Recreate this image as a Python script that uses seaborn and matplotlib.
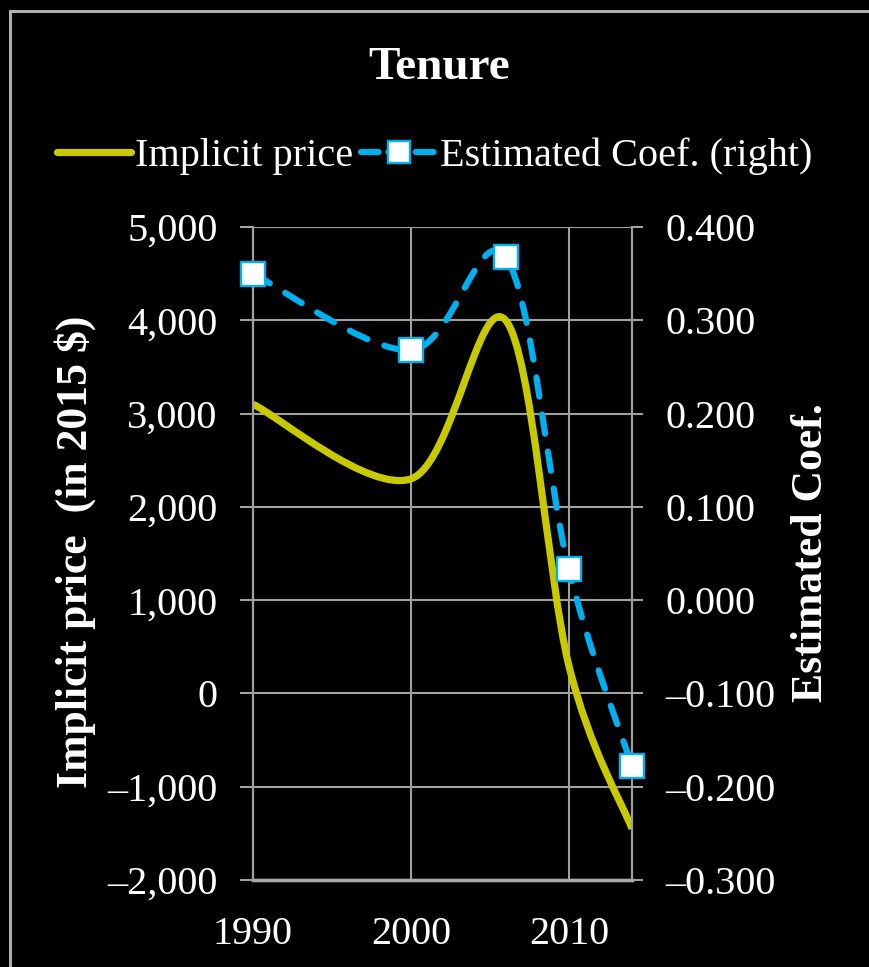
import matplotlib
matplotlib.use("Agg")
import numpy as np
import pandas as pd
import seaborn as sns
import matplotlib.pyplot as plt
from matplotlib.path import Path
from matplotlib.patches import PathPatch, Rectangle
from matplotlib.lines import Line2D
from matplotlib.ticker import FuncFormatter, FixedLocator

# ---- data -------------------------------------------------------------
years = [1990, 2000, 2006, 2010, 2014]
implicit_price = [3100, 2300, 4000, 300, -1450]          # 2015 $
estimated_coef = [0.350, 0.268, 0.368, 0.033, -0.178]

price_ticks = [-2000, -1000, 0, 1000, 2000, 3000, 4000, 5000]
coef_ticks = [-0.3, -0.2, -0.1, 0.0, 0.1, 0.2, 0.3, 0.4]
year_ticks = [1990, 2000, 2010]

title = "Tenure"
price_name = "Implicit price"
coef_name = "Estimated Coef. (right)"
left_label = "Implicit price  (in 2015 $)"
right_label = "Estimated Coef."

YELLOW = "#C9C900"
BLUE = "#00B0F0"
GRID = "#A0A0A0"
SERIF = ["Liberation Serif", "DejaVu Serif"]

sns.set_theme(style="dark", rc={
    "figure.facecolor": "black",
    "axes.facecolor": "black",
    "savefig.facecolor": "black",
    "text.color": "white",
    "xtick.color": "white",
    "ytick.color": "white",
})
plt.rcParams["font.family"] = SERIF


def smooth_path(xs, ys):
    """Piecewise cubic Bezier through the points (smoothed line)."""
    pts = np.column_stack([xs, ys]).astype(float)
    n = len(pts)
    verts = [pts[0]]
    codes = [Path.MOVETO]
    for i in range(n - 1):
        p0 = pts[i - 1] if i > 0 else pts[i]
        p1, p2 = pts[i], pts[i + 1]
        p3 = pts[i + 2] if i + 2 < n else pts[i + 1]
        verts += [p1 + (p2 - p0) / 6.0, p2 - (p3 - p1) / 6.0, p2]
        codes += [Path.CURVE4] * 3
    return Path(verts, codes)


W, H = 869, 967
fig = plt.figure(figsize=(W / 100, H / 100), dpi=100)
ax = fig.add_axes([253 / W, 1 - 880 / H, (632 - 253) / W, (880 - 227) / H])
ax2 = ax.twinx()

df = pd.DataFrame({"year": years, "price": implicit_price, "coef": estimated_coef})

# implicit price: smoothed solid line on the left axis
ax.add_patch(PathPatch(smooth_path(df["year"], df["price"]), fill=False,
                       edgecolor=YELLOW, linewidth=5.2, capstyle="butt",
                       joinstyle="round", zorder=3))

# estimated coefficient: smoothed dashed line + square markers, right axis
ax2.add_patch(PathPatch(smooth_path(df["year"], df["coef"]), fill=False,
                        edgecolor=BLUE, linewidth=4.5,
                        linestyle=(0, (3.1, 2.9)), capstyle="round",
                        joinstyle="round", zorder=3))
sns.scatterplot(data=df, x="year", y="coef", ax=ax2, marker="s", s=17 ** 2,
                color="white", edgecolor=BLUE, linewidth=1.7, zorder=4,
                legend=False)
for coll in ax2.collections:
    coll.set_clip_on(False)

# axes ranges and ticks
ax.set_xlim(1990, 2014)
ax.set_ylim(-2000, 5000)
ax2.set_ylim(-0.3, 0.4)
ax.xaxis.set_major_locator(FixedLocator(year_ticks))
ax.yaxis.set_major_locator(FixedLocator(price_ticks))
ax2.yaxis.set_major_locator(FixedLocator(coef_ticks))
ax.yaxis.set_major_formatter(FuncFormatter(lambda v, p: f"{v:,.0f}".replace("-", "\u2013")))
ax2.yaxis.set_major_formatter(FuncFormatter(lambda v, p: f"{v:.3f}".replace("-", "\u2013")))
ax.set_xlabel("")
ax.set_ylabel("")
ax2.set_xlabel("")
ax2.set_ylabel("")

ax.grid(True, axis="both", color=GRID, linewidth=1.5)
ax2.grid(False)
ax.set_axisbelow(True)

for a in (ax, ax2):
    a.spines["top"].set_visible(False)
    for s in ["left", "right"]:
        a.spines[s].set_color(GRID)
        a.spines[s].set_linewidth(1.5)
    a.spines["bottom"].set_color("#A6A6A6")
    a.spines["bottom"].set_linewidth(2.4)

ax.tick_params(axis="y", which="major", direction="out", length=9.5, width=1.5,
               color=GRID, pad=16, labelsize=29, labelcolor="white", left=True)
ax.tick_params(axis="x", which="major", length=0, pad=26, labelsize=29,
               labelcolor="white")
ax2.tick_params(axis="y", which="major", direction="out", length=8, width=1.5,
                color=GRID, pad=16, labelsize=29, labelcolor="white", right=True)
for lab in ax.get_xticklabels() + ax.get_yticklabels() + ax2.get_yticklabels():
    lab.set_family(SERIF)

# title, axis titles and legend
fig.text(0.505, 1 - 68 / H, title, ha="center", va="center", fontsize=34,
         fontweight="bold", color="white", family=SERIF)
fig.text(75 / W, 1 - 552 / H, left_label, ha="center", va="center",
         rotation=90, fontsize=31.5, fontweight="bold", color="white", family=SERIF)
fig.text(811 / W, 1 - 553 / H, right_label, ha="center", va="center",
         rotation=90, fontsize=31.5, fontweight="bold", color="white", family=SERIF)

handles = [
    Line2D([], [], color=YELLOW, linewidth=5.2),
    Line2D([], [], color=BLUE, linewidth=4.5, linestyle=(0, (2.8, 1.6)),
           dash_capstyle="round", marker="s", markersize=16,
           markerfacecolor="white", markeredgecolor=BLUE, markeredgewidth=1.7),
]
leg = fig.legend(handles, [price_name, coef_name], loc="center",
                 bbox_to_anchor=(0.5, 1 - 156 / H), ncol=2, frameon=False,
                 handlelength=1.85, handletextpad=0.1, columnspacing=0.2,
                 prop={"family": SERIF, "size": 29})
for t in leg.get_texts():
    t.set_color("white")

# outer frame of the chart area
fig.add_artist(Rectangle((10 / W, -0.1), 1.2, 1 - 11 / H + 0.1,
                         transform=fig.transFigure, fill=False,
                         edgecolor="#B0B0B0", linewidth=2.2))

fig.savefig("out.png", dpi=100, facecolor="black")
